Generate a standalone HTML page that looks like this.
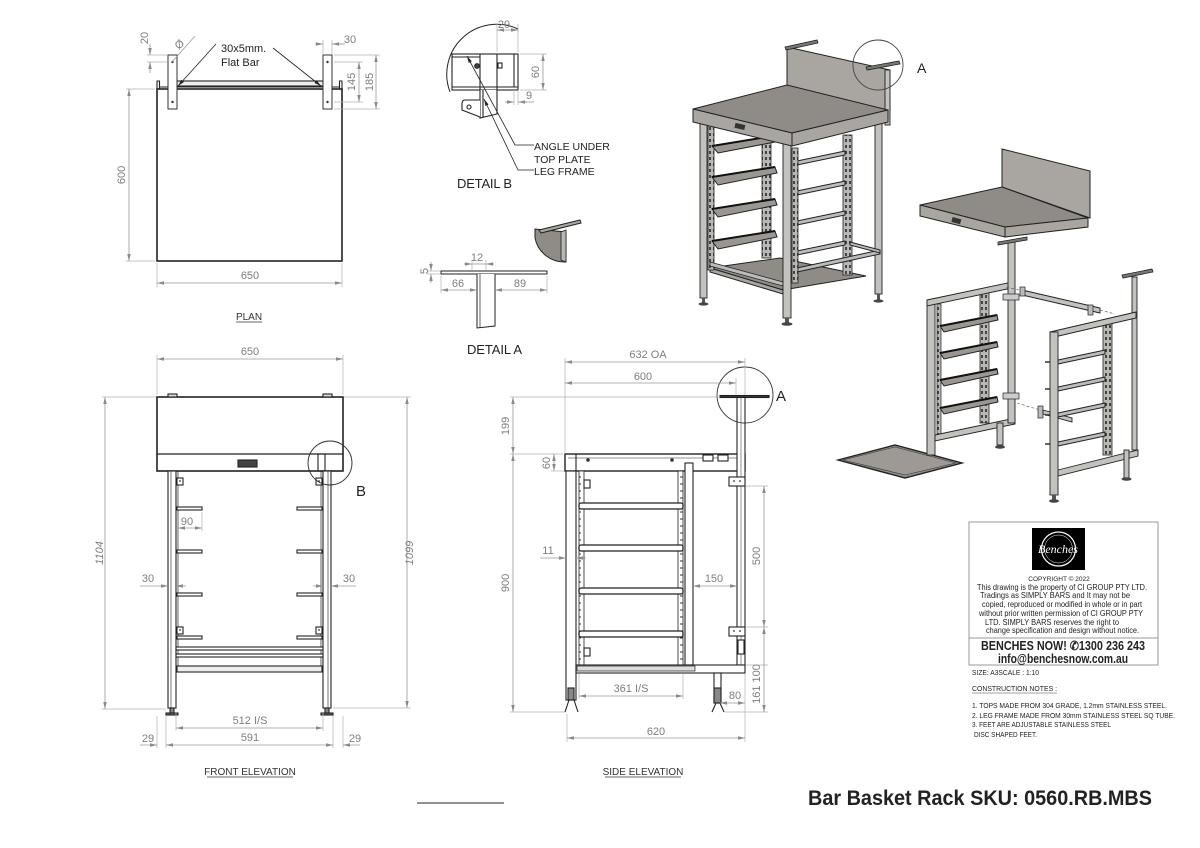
<!DOCTYPE html>
<html><head><meta charset="utf-8">
<style>
html,body{margin:0;padding:0;background:#fff;}
svg{display:block;}
.d{stroke:#9a9a9a;stroke-width:0.8;fill:none}
.e{stroke:#b0b0b0;stroke-width:0.7;fill:none}
.dt{font-family:"Liberation Sans",sans-serif;font-size:11px;fill:#7e7e7e}
.o{stroke:#222;fill:none;stroke-width:1.1}
.lbl{font-family:"Liberation Sans",sans-serif;font-size:10px;fill:#333}
.cb{font-family:"Liberation Sans",sans-serif;fill:#222}
.g1{fill:#8f8c88;stroke:#222;stroke-width:1}
.g2{fill:#a9a6a2;stroke:#222;stroke-width:1}
.g3{fill:#c4c2bf;stroke:#222;stroke-width:0.9}
</style></head><body>
<svg width="1200" height="848" viewBox="0 0 1200 848" xmlns="http://www.w3.org/2000/svg">
<defs>
<marker id="ar" viewBox="0 0 10 10" refX="10" refY="5" markerWidth="7" markerHeight="7" markerUnits="userSpaceOnUse" orient="auto-start-reverse"><path d="M0,2.5L10,5L0,7.5z" fill="#8a8a8a"/></marker>
<marker id="ak" viewBox="0 0 10 10" refX="10" refY="5" markerWidth="7" markerHeight="7" markerUnits="userSpaceOnUse" orient="auto-start-reverse"><path d="M0,2.5L10,5L0,7.5z" fill="#222"/></marker>
<pattern id="ld" width="4" height="6" patternUnits="userSpaceOnUse"><rect width="4" height="6" fill="#b9b7b4"/><rect x="1" y="1" width="2" height="3" fill="#444"/></pattern>
<pattern id="nt" width="8" height="7" patternUnits="userSpaceOnUse"><rect width="8" height="7" fill="#fff"/><line x1="0" y1="1" x2="5" y2="1" stroke="#333" stroke-width="1"/></pattern>
</defs>

<!-- ================= PLAN ================= -->
<g class="o">
<rect x="157" y="89" width="185" height="172" stroke-width="1.6"/>
<path d="M157,89V81h2.5v8M342,89V81h-2.5v8"/>
<rect x="177" y="81" width="146" height="5" fill="#eee"/>
<line x1="160" y1="87" x2="339" y2="87"/>
</g>
<rect x="168" y="55" width="9" height="54" fill="#fff" stroke="#333" stroke-width="1"/>
<rect x="323" y="55" width="9" height="54" fill="#fff" stroke="#333" stroke-width="1"/>
<g fill="#333"><circle cx="172.5" cy="62" r="1.2"/><circle cx="172.5" cy="102" r="1.2"/><circle cx="327.5" cy="62" r="1.2"/><circle cx="327.5" cy="102" r="1.2"/></g>
<!-- plan dims -->
<line class="e" x1="126" y1="89" x2="155" y2="89"/><line class="e" x1="126" y1="261" x2="155" y2="261"/>
<line class="d" x1="129" y1="89" x2="129" y2="261" marker-start="url(#ar)" marker-end="url(#ar)"/>
<text class="dt" text-anchor="middle" transform="translate(125,175) rotate(-90)">600</text>
<line class="e" x1="157" y1="263" x2="157" y2="287"/><line class="e" x1="342" y1="263" x2="342" y2="287"/>
<line class="d" x1="157" y1="283" x2="342" y2="283" marker-start="url(#ar)" marker-end="url(#ar)"/>
<text class="dt" x="250" y="279" text-anchor="middle">650</text>
<line class="e" x1="334" y1="55" x2="380" y2="55"/><line class="e" x1="334" y1="62" x2="363" y2="62"/><line class="e" x1="334" y1="102" x2="363" y2="102"/><line class="e" x1="334" y1="109" x2="380" y2="109"/>
<line class="d" x1="359" y1="62" x2="359" y2="102" marker-start="url(#ar)" marker-end="url(#ar)"/>
<text class="dt" text-anchor="middle" transform="translate(355,82) rotate(-90)">145</text>
<line class="d" x1="376" y1="55" x2="376" y2="109" marker-start="url(#ar)" marker-end="url(#ar)"/>
<text class="dt" text-anchor="middle" transform="translate(373,82) rotate(-90)">185</text>
<line class="e" x1="323" y1="40" x2="323" y2="54"/><line class="e" x1="332" y1="40" x2="332" y2="54"/>
<line class="d" x1="315" y1="44" x2="323" y2="44" marker-end="url(#ar)"/><line class="d" x1="342" y1="44" x2="332" y2="44" marker-end="url(#ar)"/>
<line class="d" x1="332" y1="44" x2="345" y2="44"/>
<text class="dt" x="350" y="43" text-anchor="middle">30</text>
<line class="e" x1="147" y1="55" x2="167" y2="55"/><line class="e" x1="147" y1="62" x2="167" y2="62"/>
<line class="d" x1="150" y1="44" x2="150" y2="55" marker-end="url(#ar)"/><line class="d" x1="150" y1="73" x2="150" y2="62" marker-end="url(#ar)"/>
<text class="dt" text-anchor="middle" transform="translate(148,38) rotate(-90)">20</text>
<line class="d" x1="172" y1="62" x2="195" y2="36"/>
<text class="dt" text-anchor="middle" font-size="10" transform="translate(182,47) rotate(-45)">Ø</text>
<line x1="216" y1="44" x2="178" y2="86" stroke="#222" stroke-width="0.8" marker-end="url(#ak)"/>
<line x1="273" y1="48" x2="321" y2="86" stroke="#222" stroke-width="0.8" marker-end="url(#ak)"/>
<text class="cb" x="221" y="52" font-size="11">30x5mm.</text>
<text class="cb" x="221" y="66" font-size="11">Flat Bar</text>
<text class="lbl" x="249" y="320" text-anchor="middle">PLAN</text>
<line x1="236" y1="322" x2="262" y2="322" stroke="#333" stroke-width="0.7"/>

<!-- ================= DETAIL B ================= -->
<path d="M450,92 A50,50 0 0 1 518,29" fill="none" stroke="#222" stroke-width="1"/>
<g class="o" stroke-width="1">
<rect x="452" y="54" width="66" height="36" fill="#fff"/>
<line x1="452" y1="57" x2="480" y2="57"/>
<line x1="452" y1="87" x2="518" y2="87"/>
<line x1="480" y1="54" x2="480" y2="90"/>
<line x1="497" y1="54" x2="497" y2="90"/>
<line x1="514" y1="54" x2="514" y2="87"/>
<path d="M480,90 V118 L497,114 V90" fill="#fff"/>
<line x1="483" y1="90" x2="483" y2="117"/>
<path d="M480,100 H465 Q462,100 462,104 V110 L480,117" fill="#fff"/>
<circle cx="469" cy="107" r="2"/>
<circle cx="477" cy="66" r="2.3" fill="#444"/>
<rect x="498" y="63" width="4" height="5" fill="#fff"/>
</g>
<line class="e" x1="497" y1="24" x2="497" y2="52"/><line class="e" x1="518" y1="24" x2="518" y2="52"/>
<line class="d" x1="497" y1="30" x2="518" y2="30" marker-start="url(#ar)" marker-end="url(#ar)"/>
<text class="dt" x="504" y="28" text-anchor="middle">29</text>
<line class="e" x1="520" y1="54" x2="547" y2="54"/><line class="e" x1="520" y1="90" x2="547" y2="90"/>
<line class="d" x1="543" y1="54" x2="543" y2="90" marker-start="url(#ar)" marker-end="url(#ar)"/>
<text class="dt" text-anchor="middle" transform="translate(539,72) rotate(-90)">60</text>
<line class="e" x1="514" y1="90" x2="514" y2="105"/><line class="e" x1="518" y1="90" x2="518" y2="105"/>
<line class="d" x1="505" y1="102" x2="514" y2="102" marker-end="url(#ar)"/><line class="d" x1="527" y1="102" x2="518" y2="102" marker-end="url(#ar)"/>
<line class="d" x1="518" y1="102" x2="534" y2="102"/>
<text class="dt" x="529" y="99" text-anchor="middle">9</text>
<path d="M534,145 H515 L467,56" fill="none" stroke="#222" stroke-width="0.8" marker-end="url(#ak)"/>
<path d="M534,170 H518 L484,99" fill="none" stroke="#222" stroke-width="0.8" marker-end="url(#ak)"/>
<text class="cb" x="534" y="150" font-size="10.5">ANGLE UNDER</text>
<text class="cb" x="534" y="163" font-size="10.5">TOP PLATE</text>
<text class="cb" x="534" y="175" font-size="10.5">LEG FRAME</text>
<text class="cb" x="457" y="188" font-size="13" fill="#333" textLength="55">DETAIL B</text>

<!-- ================= DETAIL A ================= -->
<rect x="441" y="271" width="106" height="3" fill="#fff" stroke="#222" stroke-width="1"/>
<path d="M477,274 V328 L495,326 V274" fill="#fff" stroke="#222" stroke-width="1"/>
<line x1="480" y1="274" x2="480" y2="328" stroke="#222" stroke-width="0.7"/>
<line class="e" x1="427" y1="271" x2="440" y2="271"/><line class="e" x1="427" y1="274" x2="440" y2="274"/>
<line class="d" x1="431" y1="262" x2="431" y2="271" marker-end="url(#ar)"/><line class="d" x1="431" y1="283" x2="431" y2="274" marker-end="url(#ar)"/>
<text class="dt" font-size="10" text-anchor="middle" transform="translate(428,271) rotate(-90)">5</text>
<line class="e" x1="472" y1="260" x2="472" y2="270"/><line class="e" x1="486" y1="260" x2="486" y2="270"/>
<line class="d" x1="464" y1="264" x2="472" y2="264" marker-end="url(#ar)"/><line class="d" x1="494" y1="264" x2="486" y2="264" marker-end="url(#ar)"/>
<line class="d" x1="472" y1="264" x2="486" y2="264"/>
<text class="dt" x="477" y="261" text-anchor="middle">12</text>
<line class="e" x1="441" y1="276" x2="441" y2="293"/><line class="e" x1="547" y1="276" x2="547" y2="293"/>
<line class="d" x1="441" y1="290" x2="477" y2="290" marker-start="url(#ar)" marker-end="url(#ar)"/>
<line class="d" x1="495" y1="290" x2="547" y2="290" marker-start="url(#ar)" marker-end="url(#ar)"/>
<text class="dt" x="458" y="287" text-anchor="middle">66</text>
<text class="dt" x="520" y="287" text-anchor="middle">89</text>
<path d="M535,229 L535,238 A30,30 0 0 0 566,262 L566,232 Z" fill="#8f8c88" stroke="#222" stroke-width="1"/>
<path d="M561,232 L566,230 L566,262 L561,260 Z" fill="#b8b6b3" stroke="#222" stroke-width="0.8"/>
<path d="M539,230 L580,220 L581,223 L541,233 Z" fill="#a9a6a2" stroke="#222" stroke-width="1"/>
<text class="cb" x="467" y="354" font-size="13" fill="#333" textLength="55">DETAIL A</text>

<!-- ================= FRONT ELEVATION ================= -->
<g class="o">
<rect x="157" y="397" width="186" height="74" stroke-width="1.6" fill="#fff"/>
<line x1="157" y1="454" x2="343" y2="454" stroke-width="1.3"/>
<rect x="168" y="394" width="9" height="3" fill="#ddd"/>
<rect x="323" y="394" width="9" height="3" fill="#ddd"/>
<rect x="238" y="460" width="19" height="7" fill="#444"/>
<rect x="168" y="471" width="8" height="237" fill="#fff"/>
<rect x="323" y="471" width="8" height="237" fill="#fff"/>
<line x1="171" y1="471" x2="171" y2="708" stroke-width="0.6"/>
<line x1="328" y1="471" x2="328" y2="708" stroke-width="0.6"/>
<rect x="318" y="454" width="7" height="17"/>
<line x1="178" y1="471" x2="178" y2="668" stroke-width="0.7"/>
<line x1="321" y1="471" x2="321" y2="668" stroke-width="0.7"/>
<rect x="177" y="478" width="6" height="7" fill="#fff"/>
<rect x="316" y="478" width="6" height="7" fill="#fff"/>
<rect x="177" y="627" width="6" height="7" fill="#fff"/>
<rect x="316" y="627" width="6" height="7" fill="#fff"/>
<rect x="177" y="507" width="25" height="3" fill="#fff"/>
<rect x="177" y="550" width="25" height="3" fill="#fff"/>
<rect x="177" y="593" width="25" height="3" fill="#fff"/>
<rect x="177" y="636" width="25" height="3" fill="#fff"/>
<rect x="297" y="507" width="25" height="3" fill="#fff"/>
<rect x="297" y="550" width="25" height="3" fill="#fff"/>
<rect x="297" y="593" width="25" height="3" fill="#fff"/>
<rect x="297" y="636" width="25" height="3" fill="#fff"/>
<rect x="176" y="647" width="147" height="3" fill="#fff"/>
<rect x="176" y="654" width="147" height="3" fill="#fff"/>
<rect x="177" y="666" width="145" height="6" fill="#eee"/>
<rect x="170" y="708" width="4" height="5" fill="#888"/>
<rect x="325" y="708" width="4" height="5" fill="#888"/>
<rect x="166" y="713" width="12" height="2" fill="#666"/>
<rect x="321" y="713" width="12" height="2" fill="#666"/>
</g>
<g fill="#333"><circle cx="180" cy="481" r="0.9"/><circle cx="319" cy="481" r="0.9"/><circle cx="180" cy="630" r="0.9"/><circle cx="319" cy="630" r="0.9"/></g>
<circle cx="330" cy="463" r="22" fill="none" stroke="#333" stroke-width="0.9"/>
<text class="cb" x="356" y="496" font-size="15" fill="#222">B</text>
<!-- front dims -->
<line class="e" x1="157" y1="355" x2="157" y2="395"/><line class="e" x1="343" y1="355" x2="343" y2="395"/>
<line class="d" x1="157" y1="359" x2="343" y2="359" marker-start="url(#ar)" marker-end="url(#ar)"/>
<text class="dt" x="250" y="355" text-anchor="middle">650</text>
<line class="e" x1="102" y1="397" x2="156" y2="397"/><line class="e" x1="102" y1="709" x2="166" y2="709"/>
<line class="d" x1="105" y1="397" x2="105" y2="709" marker-start="url(#ar)" marker-end="url(#ar)"/>
<text class="dt" text-anchor="middle" font-style="italic" transform="translate(103,553) rotate(-90)">1104</text>
<line class="e" x1="344" y1="397" x2="411" y2="397"/><line class="e" x1="333" y1="708" x2="411" y2="708"/>
<line class="d" x1="407" y1="397" x2="407" y2="708" marker-start="url(#ar)" marker-end="url(#ar)"/>
<text class="dt" text-anchor="middle" font-style="italic" transform="translate(413,553) rotate(-90)">1099</text>
<line class="e" x1="176" y1="712" x2="176" y2="731"/><line class="e" x1="323" y1="712" x2="323" y2="731"/>
<line class="d" x1="176" y1="728" x2="323" y2="728" marker-start="url(#ar)" marker-end="url(#ar)"/>
<text class="dt" x="250" y="724" text-anchor="middle">512 I/S</text>
<line class="e" x1="166" y1="716" x2="166" y2="748"/><line class="e" x1="333" y1="716" x2="333" y2="748"/>
<line class="e" x1="157" y1="716" x2="157" y2="748"/><line class="e" x1="343" y1="716" x2="343" y2="748"/>
<line class="d" x1="166" y1="745" x2="333" y2="745" marker-start="url(#ar)" marker-end="url(#ar)"/>
<text class="dt" x="250" y="741" text-anchor="middle">591</text>
<line class="d" x1="140" y1="745" x2="157" y2="745" marker-end="url(#ar)"/>
<line class="d" x1="360" y1="745" x2="343" y2="745" marker-end="url(#ar)"/>
<text class="dt" x="148" y="742" text-anchor="middle">29</text>
<text class="dt" x="355" y="742" text-anchor="middle">29</text>
<line class="e" x1="202" y1="512" x2="202" y2="531"/>
<line class="d" x1="178" y1="528" x2="202" y2="528" marker-start="url(#ar)" marker-end="url(#ar)"/>
<text class="dt" x="187" y="525" text-anchor="middle">90</text>
<line class="d" x1="140" y1="586" x2="168" y2="586" marker-end="url(#ar)"/>
<line class="d" x1="186" y1="586" x2="176" y2="586" marker-end="url(#ar)"/>
<text class="dt" x="148" y="582" text-anchor="middle">30</text>
<line class="d" x1="313" y1="586" x2="323" y2="586" marker-end="url(#ar)"/>
<line class="d" x1="356" y1="586" x2="331" y2="586" marker-end="url(#ar)"/>
<text class="dt" x="349" y="582" text-anchor="middle">30</text>
<text class="lbl" x="250" y="775" text-anchor="middle">FRONT ELEVATION</text>
<line x1="207" y1="777" x2="293" y2="777" stroke="#333" stroke-width="0.7"/>

<!-- ================= SIDE ELEVATION ================= -->
<g class="o">
<rect x="565" y="454" width="180" height="17" fill="#fff" stroke-width="1.4"/>
<line x1="576" y1="454" x2="576" y2="471"/>
<line x1="568" y1="458" x2="737" y2="458" stroke-width="0.6"/>
<rect x="737" y="397" width="8" height="268" fill="#fff"/>
<line x1="741" y1="397" x2="741" y2="665" stroke-width="0.5"/>
<rect x="720" y="395.5" width="49" height="2" fill="#333"/>
<rect x="703" y="455" width="10" height="6" fill="#fff"/>
<rect x="718" y="455" width="10" height="6" fill="#fff"/>
<rect x="566" y="471" width="10" height="229" fill="#fff"/>
<rect x="579" y="471" width="5" height="195" fill="url(#nt)" stroke-width="0.8"/>
<rect x="678" y="471" width="5" height="195" fill="url(#nt)" stroke-width="0.8"/>
<rect x="685" y="463" width="8" height="202" fill="#fff"/>
<rect x="584" y="480" width="6" height="8" fill="#fff"/>
<rect x="584" y="648" width="6" height="8" fill="#fff"/>
<rect x="579" y="503" width="104" height="6" rx="2" fill="#fff" stroke-width="1.3"/>
<rect x="579" y="545" width="104" height="6" rx="2" fill="#fff" stroke-width="1.3"/>
<rect x="579" y="588" width="104" height="6" rx="2" fill="#fff" stroke-width="1.3"/>
<rect x="579" y="631" width="104" height="6" rx="2" fill="#fff" stroke-width="1.3"/>
<rect x="576" y="665" width="169" height="8" fill="#fff"/>
<rect x="577" y="666" width="118" height="5" fill="#ddd" stroke-width="0.7"/>
<rect x="729" y="477" width="16" height="9" fill="#fff"/>
<rect x="729" y="627" width="16" height="9" fill="#fff"/>
<rect x="738" y="640" width="6" height="14" fill="#fff"/>
<rect x="714" y="673" width="7" height="30" fill="#fff"/>
<rect x="568" y="688" width="6" height="12" fill="#888"/>
<rect x="714" y="688" width="7" height="15" fill="#888"/>
<path d="M565,712 L569,700 H574 L578,712" fill="none"/>
<path d="M712,712 L716,703 H720 L724,712" fill="none"/>
</g>
<g fill="#333"><circle cx="588" cy="460" r="1.8"/><circle cx="672" cy="460" r="1.8"/><circle cx="734" cy="481" r="0.9"/><circle cx="740" cy="481" r="0.9"/><circle cx="734" cy="631" r="0.9"/><circle cx="740" cy="631" r="0.9"/></g>
<circle cx="745" cy="395" r="28" fill="none" stroke="#333" stroke-width="0.9"/>
<text class="cb" x="776" y="401" font-size="15">A</text>
<!-- side dims -->
<line class="e" x1="565" y1="358" x2="565" y2="452"/><line class="e" x1="745" y1="358" x2="745" y2="395"/><line class="e" x1="736" y1="378" x2="736" y2="394"/>
<line class="d" x1="565" y1="362" x2="745" y2="362" marker-start="url(#ar)" marker-end="url(#ar)"/>
<text class="dt" x="648" y="358" text-anchor="middle">632 OA</text>
<line class="d" x1="565" y1="383" x2="736" y2="383" marker-start="url(#ar)" marker-end="url(#ar)"/>
<text class="dt" x="643" y="380" text-anchor="middle">600</text>
<line class="e" x1="510" y1="397" x2="720" y2="397"/><line class="e" x1="510" y1="454" x2="563" y2="454"/><line class="e" x1="510" y1="712" x2="565" y2="712"/>
<line class="d" x1="513" y1="397" x2="513" y2="454" marker-start="url(#ar)" marker-end="url(#ar)"/>
<line class="d" x1="513" y1="454" x2="513" y2="712" marker-start="url(#ar)" marker-end="url(#ar)"/>
<text class="dt" text-anchor="middle" transform="translate(509,426) rotate(-90)">199</text>
<text class="dt" text-anchor="middle" transform="translate(509,583) rotate(-90)">900</text>
<line class="e" x1="551" y1="471" x2="564" y2="471"/>
<line class="d" x1="554" y1="454" x2="554" y2="471" marker-start="url(#ar)" marker-end="url(#ar)"/>
<text class="dt" text-anchor="middle" transform="translate(550,463) rotate(-90)">60</text>
<line class="d" x1="540" y1="558" x2="566" y2="558" marker-end="url(#ar)"/>
<line class="d" x1="586" y1="558" x2="576" y2="558" marker-end="url(#ar)"/>
<text class="dt" x="548" y="554" text-anchor="middle">11</text>
<line class="d" x1="693" y1="586" x2="737" y2="586" marker-start="url(#ar)" marker-end="url(#ar)"/>
<text class="dt" x="714" y="582" text-anchor="middle">150</text>
<line class="e" x1="746" y1="486" x2="768" y2="486"/><line class="e" x1="746" y1="627" x2="768" y2="627"/><line class="e" x1="746" y1="665" x2="768" y2="665"/><line class="e" x1="725" y1="712" x2="768" y2="712"/>
<line class="d" x1="764" y1="486" x2="764" y2="627" marker-start="url(#ar)" marker-end="url(#ar)"/>
<text class="dt" text-anchor="middle" transform="translate(760,556) rotate(-90)">500</text>
<line class="d" x1="764" y1="627" x2="764" y2="712" marker-start="url(#ar)" marker-end="url(#ar)"/>
<text class="dt" text-anchor="middle" transform="translate(760,684) rotate(-90)">161 100</text>
<line class="e" x1="579" y1="674" x2="579" y2="699"/><line class="e" x1="683" y1="674" x2="683" y2="699"/>
<line class="d" x1="579" y1="696" x2="683" y2="696" marker-start="url(#ar)" marker-end="url(#ar)"/>
<text class="dt" x="631" y="692" text-anchor="middle">361 I/S</text>
<line class="d" x1="720" y1="703" x2="745" y2="703" marker-start="url(#ar)" marker-end="url(#ar)"/>
<text class="dt" x="735" y="699" text-anchor="middle">80</text>
<line class="e" x1="567" y1="714" x2="567" y2="742"/><line class="e" x1="745" y1="674" x2="745" y2="742"/>
<line class="d" x1="567" y1="738" x2="745" y2="738" marker-start="url(#ar)" marker-end="url(#ar)"/>
<text class="dt" x="656" y="735" text-anchor="middle">620</text>
<text class="lbl" x="643" y="775" text-anchor="middle">SIDE ELEVATION</text>
<line x1="605" y1="777" x2="681" y2="777" stroke="#333" stroke-width="0.7"/>

<!-- ================= ISO ASSEMBLED ================= -->
<!-- bottom shelf -->
<polygon class="g1" points="710,268 783,290 866,276 780,258"/>
<polygon class="g2" points="710,268 783,290 783,294 710,272"/>
<!-- back ladders -->
<rect x="762" y="140" width="9" height="118" fill="url(#ld)" stroke="#222" stroke-width="0.8"/>
<rect x="843" y="135" width="9" height="140" fill="url(#ld)" stroke="#222" stroke-width="0.8"/>
<rect x="875" y="120" width="7" height="174" class="g3"/>
<rect x="877" y="294" width="3" height="6" fill="#555"/>
<ellipse cx="878.5" cy="301" rx="5" ry="1.6" fill="#444"/>
<!-- right rungs -->
<g stroke="#222" stroke-width="1" fill="#bbb">
<polygon points="797,161 845,151 845,155 797,165"/>
<polygon points="797,191 845,181 845,185 797,195"/>
<polygon points="797,221 845,211 845,215 797,225"/>
<polygon points="797,251 845,241 845,245 797,255"/>
<polygon points="797,268 880,250 880,254 797,272"/>
<polygon points="850,242 880,250 880,253 850,245"/>
</g>
<!-- left ladder -->
<rect x="708" y="124" width="6" height="146" fill="url(#ld)" stroke="#222" stroke-width="0.8"/>
<!-- trays left -->
<g>
<polygon points="712,146 773,136 775,142 718,153" fill="#9a9793" stroke="#222"/>
<line x1="712" y1="146" x2="773" y2="136" stroke="#111" stroke-width="2"/>
<polygon points="712,177 775,167 777,173 718,185" fill="#9a9793" stroke="#222"/>
<line x1="712" y1="177" x2="775" y2="167" stroke="#111" stroke-width="2"/>
<polygon points="712,209 775,199 777,205 718,217" fill="#9a9793" stroke="#222"/>
<line x1="712" y1="209" x2="775" y2="199" stroke="#111" stroke-width="2"/>
<polygon points="712,241 775,231 777,237 718,249" fill="#9a9793" stroke="#222"/>
<line x1="712" y1="241" x2="775" y2="231" stroke="#111" stroke-width="2"/>
</g>
<polygon points="710,262 783,282 783,286 710,266" fill="#bbb" stroke="#222" stroke-width="0.8"/>
<!-- front ladder right side -->
<rect x="792" y="148" width="6" height="135" fill="url(#ld)" stroke="#222" stroke-width="0.8"/>
<!-- legs -->
<rect x="700" y="118" width="7" height="180" class="g3"/>
<rect x="702" y="298" width="3" height="5" fill="#555"/>
<ellipse cx="703.5" cy="304" rx="5" ry="1.6" fill="#444"/>
<rect x="783" y="142" width="8" height="176" class="g3"/>
<rect x="785" y="318" width="4" height="5" fill="#555"/>
<ellipse cx="787" cy="324" rx="5.5" ry="1.8" fill="#444"/>
<!-- upstand & top -->
<polygon class="g2" points="787,47 890,70 890,112 787,86" fill="#9f9c98"/>
<rect x="885" y="70" width="5" height="55" class="g3"/>
<polygon class="g1" points="693,109 787,85 888,110 792,133"/>
<polygon class="g2" points="693,109 792,133 792,146 693,122"/>
<polygon class="g2" points="792,133 888,110 888,122 792,146"/>
<rect x="735" y="124" width="10" height="5" fill="#333" transform="rotate(13 740 126)"/>
<polygon points="785,47 817,40 818,43 786,50" fill="#777" stroke="#222" stroke-width="0.8"/>
<polygon points="866,67 899,61 900,64 867,70" fill="#777" stroke="#222" stroke-width="0.8"/>
<circle cx="878" cy="65" r="25" fill="none" stroke="#444" stroke-width="0.9"/>
<text class="cb" x="917" y="73" font-size="14">A</text>

<!-- ================= ISO EXPLODED ================= -->
<!-- top piece -->
<polygon class="g2" points="1002,149 1090,171 1090,218 1002,187" fill="#a19e9a"/>
<polygon class="g1" points="920,205 1002,187 1088,218 1005,227"/>
<polygon class="g2" points="920,205 1005,227 1005,237 920,216"/>
<polygon class="g2" points="1005,227 1088,218 1088,227 1005,237"/>
<rect x="952" y="218" width="9" height="5" fill="#333" transform="rotate(15 956 220)"/>
<!-- pan -->
<polygon points="838,460 895,445 962,463 905,478" fill="#8f8c88" stroke="#222" stroke-width="1.4"/>
<polygon points="843,460 895,447 956,463 905,475" fill="#9d9a96" stroke="#333" stroke-width="0.6"/>
<!-- left frame -->
<rect x="927" y="300" width="8" height="155" class="g3"/>
<rect x="937" y="304" width="4" height="135" fill="url(#ld)" stroke="#222" stroke-width="0.7"/>
<rect x="980" y="292" width="9" height="131" fill="url(#ld)" stroke="#222" stroke-width="0.8"/>
<polygon points="927,300 1012,282 1012,288 927,306" class="g3"/>
<polygon points="935,435 1015,418 1015,424 935,441" class="g3"/>
<g>
<polygon points="940,326 997,315 998,320 944,332" fill="#9a9793" stroke="#222"/>
<line x1="940" y1="326" x2="997" y2="315" stroke="#111" stroke-width="2"/>
<polygon points="940,353 997,342 998,347 944,359" fill="#9a9793" stroke="#222"/>
<line x1="940" y1="353" x2="997" y2="342" stroke="#111" stroke-width="2"/>
<polygon points="940,380 997,369 998,374 944,386" fill="#9a9793" stroke="#222"/>
<line x1="940" y1="380" x2="997" y2="369" stroke="#111" stroke-width="2"/>
<polygon points="940,408 997,397 998,402 944,414" fill="#9a9793" stroke="#222"/>
<line x1="940" y1="408" x2="997" y2="397" stroke="#111" stroke-width="2"/>
</g>
<rect x="1008" y="241" width="7" height="182" class="g3"/>
<polygon points="998,242 1027,237 1027,240 998,245" fill="#777" stroke="#222" stroke-width="0.8"/>
<rect x="1003" y="294" width="16" height="6" fill="#ccc" stroke="#222" stroke-width="0.7"/>
<rect x="1003" y="393" width="16" height="6" fill="#ccc" stroke="#222" stroke-width="0.7"/>
<rect x="997" y="423" width="6" height="22" class="g3"/>
<ellipse cx="1000" cy="447" rx="5" ry="1.8" fill="#444"/>
<!-- connector bar -->
<polygon points="1022,290 1100,308 1100,313 1022,295" class="g3"/>
<rect x="1020" y="287" width="5" height="9" fill="#bbb" stroke="#222" stroke-width="0.7"/>
<rect x="1088" y="305" width="5" height="10" fill="#bbb" stroke="#222" stroke-width="0.7"/>
<line x1="1019" y1="290" x2="1005" y2="287" stroke="#555" stroke-width="0.6" stroke-dasharray="3,2"/>
<line x1="1100" y1="310" x2="1115" y2="314" stroke="#555" stroke-width="0.6" stroke-dasharray="3,2"/>
<line x1="1017" y1="403" x2="1040" y2="410" stroke="#555" stroke-width="0.6" stroke-dasharray="3,2"/>
<rect x="1038" y="406" width="5" height="12" fill="#bbb" stroke="#222" stroke-width="0.7"/>
<polygon points="1043,410 1072,418 1072,422 1043,414" class="g3"/>
<!-- right frame -->
<rect x="1103" y="322" width="9" height="133" fill="url(#ld)" stroke="#222" stroke-width="0.8"/>
<rect x="1132" y="277" width="5" height="173" class="g3"/>
<polygon points="1122,275 1152,269 1153,272 1123,278" fill="#777" stroke="#222" stroke-width="0.8"/>
<polygon points="1050,332 1136,312 1136,318 1050,338" class="g3"/>
<polygon points="1058,470 1138,450 1138,456 1058,476" class="g3"/>
<g stroke="#222" stroke-width="1" fill="#bbb">
<polygon points="1058,360 1105,350 1105,354 1058,364"/>
<polygon points="1058,387 1105,377 1105,381 1058,391"/>
<polygon points="1058,413 1105,403 1105,407 1058,417"/>
<polygon points="1058,442 1105,432 1105,436 1058,446"/>
</g>
<g stroke="#333" stroke-width="1.5"><line x1="1045" y1="362" x2="1058" y2="362"/><line x1="1045" y1="389" x2="1058" y2="389"/><line x1="1045" y1="415" x2="1058" y2="415"/><line x1="1045" y1="444" x2="1058" y2="444"/></g>
<rect x="1050" y="332" width="8" height="163" class="g3"/>
<rect x="1052" y="495" width="4" height="5" fill="#555"/>
<ellipse cx="1054" cy="501" rx="5" ry="1.8" fill="#444"/>
<rect x="1124" y="450" width="5" height="28" class="g3"/>
<ellipse cx="1126.5" cy="479" rx="5" ry="1.8" fill="#444"/>

<!-- ================= TITLE BLOCK ================= -->
<rect x="969" y="522" width="189" height="143" fill="#fff" stroke="#999" stroke-width="1"/>
<line x1="969" y1="638" x2="1158" y2="638" stroke="#999" stroke-width="1"/>
<rect x="1032" y="528" width="53" height="42" fill="#000"/>
<circle cx="1058.5" cy="549" r="17" fill="none" stroke="#fff" stroke-width="1.2"/>
<circle cx="1058.5" cy="549" r="14" fill="none" stroke="#fff" stroke-width="0.5"/>
<text x="1058" y="553" font-family="Liberation Serif,serif" font-style="italic" font-size="12" fill="#fff" text-anchor="middle">Benches</text>
<text class="cb" x="1059" y="581" font-size="6.5" text-anchor="middle">COPYRIGHT © 2022</text>
<text class="cb" x="977" y="590" font-size="8" textLength="170" lengthAdjust="spacingAndGlyphs">This drawing is the property of CI GROUP PTY LTD.</text>
<text class="cb" x="980" y="598" font-size="8" textLength="150" lengthAdjust="spacingAndGlyphs">Tradings as SIMPLY BARS and It may not be</text>
<text class="cb" x="982" y="607" font-size="8" textLength="160" lengthAdjust="spacingAndGlyphs">copied, reproduced or modified in whole or in part</text>
<text class="cb" x="979" y="616" font-size="8" textLength="164" lengthAdjust="spacingAndGlyphs">without prior written permission of CI GROUP PTY</text>
<text class="cb" x="985" y="625" font-size="8" textLength="134" lengthAdjust="spacingAndGlyphs">LTD. SIMPLY BARS reserves the right to</text>
<text class="cb" x="986" y="633" font-size="8" textLength="153" lengthAdjust="spacingAndGlyphs">change specification and design without notice.</text>
<text class="cb" x="981" y="650" font-size="12.5" font-weight="bold" textLength="164" lengthAdjust="spacingAndGlyphs">BENCHES NOW!  ✆1300 236 243</text>
<text class="cb" x="998" y="663" font-size="12.5" font-weight="bold" textLength="130" lengthAdjust="spacingAndGlyphs">info@benchesnow.com.au</text>
<text class="cb" x="972" y="675" font-size="7" fill="#444" textLength="67" lengthAdjust="spacingAndGlyphs">SIZE: A3SCALE : 1:10</text>
<text class="cb" x="972" y="691" font-size="7" fill="#444" textLength="85" lengthAdjust="spacingAndGlyphs">CONSTRUCTION NOTES :</text>
<line x1="972" y1="693" x2="1057" y2="693" stroke="#444" stroke-width="0.6"/>
<text class="cb" x="972" y="708" font-size="7" fill="#444" textLength="195" lengthAdjust="spacingAndGlyphs">1. TOPS MADE FROM 304 GRADE, 1.2mm STAINLESS STEEL.</text>
<text class="cb" x="972" y="718" font-size="7" fill="#444" textLength="203" lengthAdjust="spacingAndGlyphs">2. LEG FRAME MADE FROM 30mm STAINLESS STEEL SQ TUBE.</text>
<text class="cb" x="972" y="727" font-size="7" fill="#444" textLength="139" lengthAdjust="spacingAndGlyphs">3. FEET ARE ADJUSTABLE STAINLESS STEEL</text>
<text class="cb" x="974" y="737" font-size="7" fill="#444" textLength="63" lengthAdjust="spacingAndGlyphs">DISC SHAPED FEET.</text>

<!-- ================= TITLE ================= -->
<line x1="417" y1="803" x2="504" y2="803" stroke="#222" stroke-width="1"/>
<text class="cb" x="808" y="805" font-size="21" font-weight="bold" fill="#111" textLength="344" lengthAdjust="spacingAndGlyphs">Bar Basket Rack SKU: 0560.RB.MBS</text>
</svg>
</body></html>
